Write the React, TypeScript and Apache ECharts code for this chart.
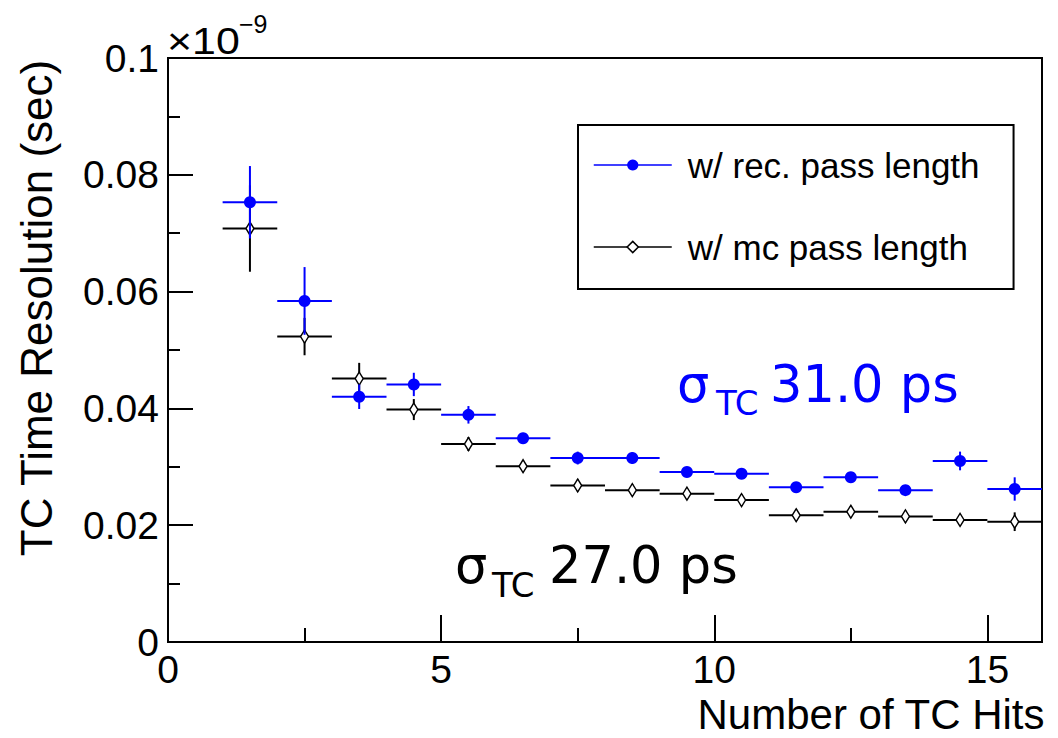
import React, { useEffect, useRef } from "react";
import * as echarts from "echarts";

// ---- data (values in units of 1e-9 s) ----
const binCenters = [1.5, 2.5, 3.5, 4.5, 5.5, 6.5, 7.5, 8.5, 9.5, 10.5, 11.5, 12.5, 13.5, 14.5, 15.5];
const binHalfWidth = 0.5;
const recValues = [0.0753, 0.0584, 0.042, 0.0441, 0.0389, 0.0349, 0.0315, 0.0315, 0.0291, 0.0288, 0.0265, 0.0282, 0.026, 0.031, 0.0262];
const recErrors = [0.0062, 0.0058, 0.0021, 0.002, 0.0015, 0.0009, 0.0011, 0.001, 0.0008, 0.0008, 0.0009, 0.0009, 0.0008, 0.0016, 0.002];
const mcValues = [0.0708, 0.0523, 0.0451, 0.0398, 0.0339, 0.0301, 0.0268, 0.026, 0.0254, 0.0243, 0.0217, 0.0223, 0.0215, 0.0209, 0.0206];
const mcErrors = [0.0074, 0.0032, 0.0027, 0.0018, 0.0012, 0.001, 0.001, 0.001, 0.001, 0.001, 0.001, 0.001, 0.001, 0.001, 0.0016];
const xMajorTicks = [0, 5, 10, 15];
const xMinorTicks = [2.5, 7.5, 12.5];
const recName = "w/ rec. pass length";
const mcName = "w/ mc pass length";
const xTitle = "Number of TC Hits";
const yTitle = "TC Time Resolution (sec)";
const recSigmaValue = "31.0 ps";
const mcSigmaValue = "27.0 ps";

const BLUE = "#0000ff";
const BLACK = "#000000";
const FONT = "'Liberation Sans', Arial, sans-serif";
const SIGMA_FONT = "'DejaVu Sans', Verdana, sans-serif";

function errorSeries(vals: number[], errs: number[], color: string, z: number) {
  return {
    type: "custom",
    name: "err",
    z,
    silent: true,
    data: binCenters.map((x, i) => [x, vals[i], errs[i]]),
    renderItem: (_p: any, api: any) => {
      const x = api.value(0);
      const y = api.value(1);
      const e = api.value(2);
      const l = api.coord([x - binHalfWidth, y]);
      const r = api.coord([x + binHalfWidth, y]);
      const t = api.coord([x, y + e]);
      const b = api.coord([x, y - e]);
      return {
        type: "group",
        children: [
          { type: "line", shape: { x1: l[0], y1: l[1], x2: r[0], y2: r[1] }, style: { stroke: color, lineWidth: 2 } },
          { type: "line", shape: { x1: t[0], y1: t[1], x2: b[0], y2: b[1] }, style: { stroke: color, lineWidth: 2 } },
        ],
      };
    },
  };
}

export default function App() {
  const ref = useRef<HTMLDivElement>(null);
  useEffect(() => {
    const chart = echarts.init(ref.current!, null, { renderer: "svg" });
    const tickStyle = { color: BLACK, width: 2 };
    const option: any = {
      animation: false,
      backgroundColor: "#fff",
      grid: {
        left: 168,
        right: 16,
        top: 58,
        bottom: 96,
        containLabel: false,
        outerBoundsMode: "none",
        show: true,
        borderColor: BLACK,
        borderWidth: 2,
        backgroundColor: "transparent",
      },
      xAxis: [
        {
          type: "value",
          min: 0,
          max: 16,
          interval: 5,
          axisLine: { show: true, onZero: false, lineStyle: { color: BLACK, width: 2 } },
          axisTick: { show: true, inside: true, length: 27, customValues: xMajorTicks, lineStyle: tickStyle },
          splitLine: { show: false },
          axisLabel: {
            customValues: xMajorTicks,
            fontSize: 39,
            fontFamily: FONT,
            color: BLACK,
            margin: 8,
          },
          name: xTitle,
          nameLocation: "middle",
          nameGap: 49,
          nameTextStyle: {
            align: "center",
            verticalAlign: "top",
            padding: [0, 0, 0, 532],
            fontSize: 42,
            fontFamily: FONT,
            color: BLACK,
          },
        },
        {
          type: "value",
          min: 0,
          max: 16,
          position: "bottom",
          axisLine: { show: false },
          axisLabel: { show: false },
          splitLine: { show: false },
          axisTick: { show: true, inside: true, length: 14, customValues: xMinorTicks, lineStyle: tickStyle },
        },
      ],
      yAxis: {
        type: "value",
        min: 0,
        max: 0.1,
        interval: 0.02,
        axisLine: { show: true, lineStyle: { color: BLACK, width: 2 } },
        axisTick: { show: true, inside: true, length: 25, lineStyle: tickStyle },
        minorTick: { show: true, splitNumber: 2, length: 12, lineStyle: tickStyle },
        splitLine: { show: false },
        axisLabel: {
          fontSize: 39,
          fontFamily: FONT,
          color: BLACK,
          margin: 9,
          formatter: (v: number) => String(parseFloat(v.toFixed(3))),
        },
        name: yTitle,
        nameLocation: "middle",
        nameGap: 110,
        nameTextStyle: {
          fontSize: 44,
          fontFamily: FONT,
          color: BLACK,
          padding: [0, 0, 0, 84],
        },
      },
      legend: {
        data: [
          {
            name: recName,
            itemStyle: { color: BLUE, borderWidth: 0 },
            lineStyle: { color: BLUE, width: 1.5, opacity: 1 },
          },
          {
            name: mcName,
            itemStyle: { color: "#fff", borderColor: BLACK, borderWidth: 1.5 },
            lineStyle: { color: BLACK, width: 1.5, opacity: 1 },
          },
        ],
        orient: "vertical",
        left: 578,
        top: 125,
        padding: [20, 34, 22, 15],
        itemWidth: 78,
        itemHeight: 14,
        itemGap: 42,
        borderColor: BLACK,
        borderWidth: 2,
        selectedMode: false,
        textStyle: {
          fontSize: 35,
          fontFamily: FONT,
          color: BLACK,
          lineHeight: 40,
          padding: [0, 0, 0, 11],
        },
      },
      series: [
        errorSeries(mcValues, mcErrors, BLACK, 2),
        {
          type: "line",
          name: mcName,
          z: 3,
          data: binCenters.map((x, i) => [x, mcValues[i]]),
          symbol: "diamond",
          symbolSize: [8, 13],
          showSymbol: true,
          showAllSymbol: true,
          lineStyle: { color: BLACK, width: 1.5, opacity: 0 },
          itemStyle: { color: "#fff", borderColor: BLACK, borderWidth: 1.5 },
          emphasis: { disabled: true },
        },
        errorSeries(recValues, recErrors, BLUE, 4),
        {
          type: "line",
          name: recName,
          z: 5,
          data: binCenters.map((x, i) => [x, recValues[i]]),
          symbol: "circle",
          symbolSize: 12,
          showSymbol: true,
          showAllSymbol: true,
          lineStyle: { color: BLUE, width: 1.5, opacity: 0 },
          itemStyle: { color: BLUE },
          emphasis: { disabled: true },
        },
      ],
      graphic: [
        { type: "text", x: 167, y: 41, scaleX: 1.16, style: { text: "×10", fontSize: 37, fontFamily: FONT, fill: BLACK, verticalAlign: "middle", align: "left" } },
        { type: "text", x: 239, y: 24, style: { text: "−9", fontSize: 25, fontFamily: FONT, fill: BLACK, verticalAlign: "middle", align: "left" } },
        { type: "text", x: 677, y: 384, style: { text: "σ", fontSize: 51, fontFamily: SIGMA_FONT, fill: BLUE, verticalAlign: "middle", align: "left" } },
        { type: "text", x: 716, y: 403, style: { text: "TC", fontSize: 34, fontFamily: SIGMA_FONT, fill: BLUE, verticalAlign: "middle", align: "left" } },
        { type: "text", x: 770, y: 384, style: { text: recSigmaValue, fontSize: 51, fontFamily: SIGMA_FONT, fill: BLUE, verticalAlign: "middle", align: "left" } },
        { type: "text", x: 455, y: 565, style: { text: "σ", fontSize: 51, fontFamily: SIGMA_FONT, fill: BLACK, verticalAlign: "middle", align: "left" } },
        { type: "text", x: 492, y: 585, style: { text: "TC", fontSize: 34, fontFamily: SIGMA_FONT, fill: BLACK, verticalAlign: "middle", align: "left" } },
        { type: "text", x: 549, y: 565, style: { text: mcSigmaValue, fontSize: 51, fontFamily: SIGMA_FONT, fill: BLACK, verticalAlign: "middle", align: "left" } },
      ],
    };
    chart.setOption(option);
    return () => chart.dispose();
  }, []);
  return (
    <div
      ref={ref}
      style={{ position: "fixed", left: 0, top: 0, width: 1058, height: 738, background: "#fff" }}
    />
  );
}
